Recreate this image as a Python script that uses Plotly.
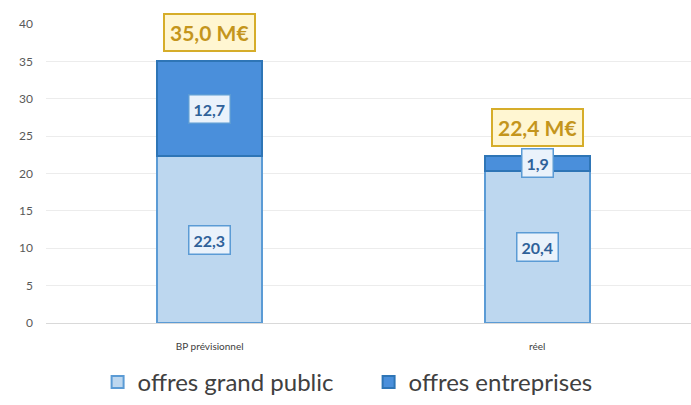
import plotly.graph_objects as go

categories = ["BP prévisionnel", "réel"]
grand_public = [22.3, 20.4]
entreprises = [12.7, 1.9]
totals = [35.0, 22.4]
series_names = ["offres grand public", "offres entreprises"]
y_ticks = [0, 5, 10, 15, 20, 25, 30, 35, 40]

def fr(v, d=1):
    return f"{v:.{d}f}".replace(".", ",")

fig = go.Figure()
fig.add_trace(go.Bar(
    x=categories, y=grand_public, name=series_names[0],
    marker=dict(color="#bdd7ef", line=dict(color="#5b9bd5", width=2)),
    width=0.32,
))
fig.add_trace(go.Bar(
    x=categories, y=entreprises, name=series_names[1],
    marker=dict(color="#4a8fdb", line=dict(color="#2e75b6", width=2)),
    width=0.32,
))

ann = []
lab_font = dict(family="Lato, Open Sans, sans-serif", size=16, color="#2f6199")
for i, c in enumerate(categories):
    ann.append(dict(x=c, y=grand_public[i] / 2, text="<b>" + fr(grand_public[i]) + "</b>",
                    showarrow=False, font=lab_font, bgcolor="#eaf2fb",
                    bordercolor="#5b9bd5", borderwidth=1.5, borderpad=4))
    ann.append(dict(x=c, y=grand_public[i] + entreprises[i] / 2,
                    text="<b>" + fr(entreprises[i]) + "</b>",
                    showarrow=False, font=lab_font, bgcolor="#eaf2fb",
                    bordercolor="#5b9bd5", borderwidth=1.5, borderpad=4))
    ann.append(dict(x=c, y=totals[i], text="<b>" + fr(totals[i]) + " M€</b>",
                    showarrow=False, yanchor="bottom", yshift=9,
                    font=dict(family="Lato, Open Sans, sans-serif", size=21, color="#c4951c"),
                    bgcolor="#fff6d2", bordercolor="#d6ad2a", borderwidth=2, borderpad=5))

fig.update_layout(
    barmode="stack",
    width=691, height=405,
    margin=dict(l=46, r=0, t=24, b=80),
    paper_bgcolor="white", plot_bgcolor="white",
    font=dict(family="Lato, Open Sans, sans-serif", color="#595959"),
    xaxis=dict(range=[-0.5, 1.47], tickfont=dict(size=10, color="#404040"),
               showgrid=False, showline=False, ticks="", ticklabelstandoff=16),
    yaxis=dict(range=[0, 40], tickvals=y_ticks, tickfont=dict(size=12, color="#595959"),
               showgrid=True, gridcolor="#ececec", zeroline=True, zerolinecolor="#d9d9d9",
               zerolinewidth=1, ticks="", ticklabelstandoff=12),
    legend=dict(orientation="h", x=0.08, xanchor="left", y=-0.125, yanchor="top",
                font=dict(size=24, color="#404040"), entrywidth=226, entrywidthmode="pixels",
                itemwidth=30, traceorder="normal"),
    annotations=ann,
    showlegend=True,
)
fig.write_html("out.html")
